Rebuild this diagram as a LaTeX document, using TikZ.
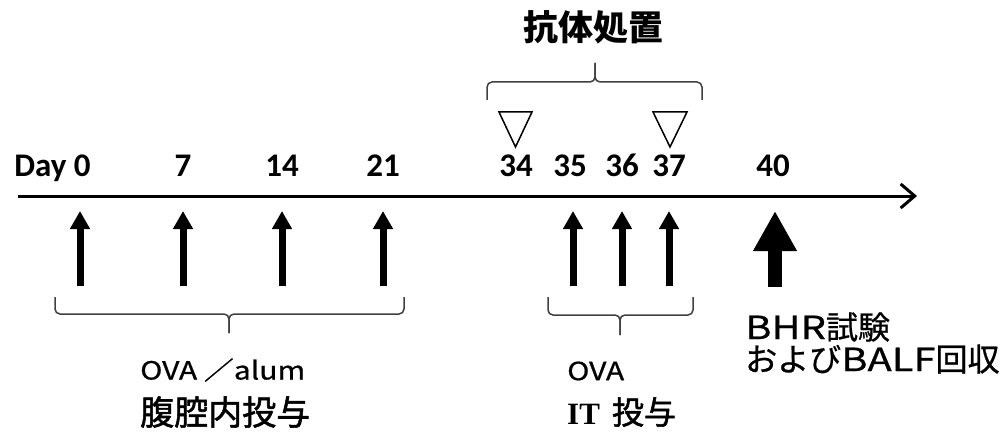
\documentclass[tikz,border=0pt]{standalone}
\usepackage{fontspec}
\usetikzlibrary{arrows.meta}
\newfontfamily\numfont{Carlito}
\newfontfamily\jpfont{Noto Sans CJK JP}
\newfontfamily\jpmed{Noto Sans CJK JP}[FakeBold=1.6]
\newfontfamily\jpreg{Noto Sans CJK JP}[FakeBold=0.7]
\newfontfamily\jpwide{Noto Sans CJK JP}[FakeStretch=1.25,FakeBold=0.7]
\newfontfamily\jpwidemed{Noto Sans CJK JP}[FakeStretch=1.2,FakeBold=0.8]
\newfontfamily\serifb{Liberation Serif}
\begin{document}
\begin{tikzpicture}[x=1pt,y=-1pt,
  num/.style={font=\numfont\bfseries\fontsize{33}{36}\selectfont, anchor=base, inner sep=0pt},
  lbl/.style={anchor=west, inner sep=0pt},
  smallarrow/.style={line width=7pt, -{Triangle[length=18pt,width=19pt]}},
  bigarrow/.style={line width=14pt, -{Triangle[length=40pt,width=41pt]}},
  brace/.style={line width=1.5pt, draw=black!75, rounded corners=5pt},
  tri/.style={line width=1.5pt, line join=miter}
]
\useasboundingbox (0,0) rectangle (1006,433);

% axis
\coordinate (axL) at (18,196);
\coordinate (axR) at (917,196);
\draw[line width=3pt, -{Straight Barb[length=14pt,width=24pt,line width=3pt]}] (axL) -- (axR);

% day labels
\node[num] (d0) at (52.5,176) {Day 0};
\node[num] (d7) at (183,176) {7};
\node[num] (d14) at (282,176) {14};
\node[num] (d21) at (383,176) {21};
\node[num] (d34) at (516,176) {34};
\node[num] (d35) at (570,176) {35};
\node[num] (d36) at (622,176) {36};
\node[num] (d37) at (669,176) {37};
\node[num] (d40) at (773,176) {40};

% small arrows
\foreach \x/\n in {80/a0,183/a7,282/a14,383/a21,573/a35,622/a36,669/a37}{
  \coordinate (\n b) at (\x,286);
  \coordinate (\n t) at (\x,211);
  \draw[smallarrow] (\n b) -- (\n t);
}
% big arrow
\coordinate (a40b) at (775,287);
\coordinate (a40t) at (775,211);
\draw[bigarrow] (a40b) -- (a40t);

% open triangles
\draw[tri] (499,112) -- (532,112) -- (515.5,147) -- cycle;
\draw[tri] (653,112) -- (687,112) -- (670,147) -- cycle;

% braces
\draw[brace] (487,100) |- (595,82) -- (595,63);
\draw[brace] (702,100) |- (595,82) -- (595,63);
\draw[brace] (55,297) |- (229,314) -- (229,333);
\draw[brace] (404,297) |- (229,314) -- (229,333);
\draw[brace] (548,297) |- (620,315) -- (620,335);
\draw[brace] (693,297) |- (620,315) -- (620,335);

% texts
\node[inner sep=0pt] (ab) at (593,27) {\jpfont\bfseries\fontsize{35}{40}\selectfont 抗体処置};
\node[lbl] (ova1) at (140,370) {\jpwidemed\fontsize{25}{30}\selectfont OVA ／alum};
\node[lbl] (ip) at (140,412) {\jpmed\fontsize{34}{40}\selectfont 腹腔内投与};
\node[lbl] (ova2) at (567,371) {\jpwidemed\fontsize{25}{30}\selectfont OVA};
\node[lbl] (it) at (567,412) {{\serifb\bfseries\fontsize{31}{36}\selectfont IT}\hspace{12pt}{\jpmed\fontsize{32}{38}\selectfont 投与}};
\node[lbl] (bhr) at (745,327) {\jpwide\fontsize{32}{38}\selectfont BHR\jpreg 試験};
\node[lbl] (balf) at (745,359) {\jpreg\fontsize{32}{38}\selectfont および{\jpwide BALF}回収};
\end{tikzpicture}
\end{document}
